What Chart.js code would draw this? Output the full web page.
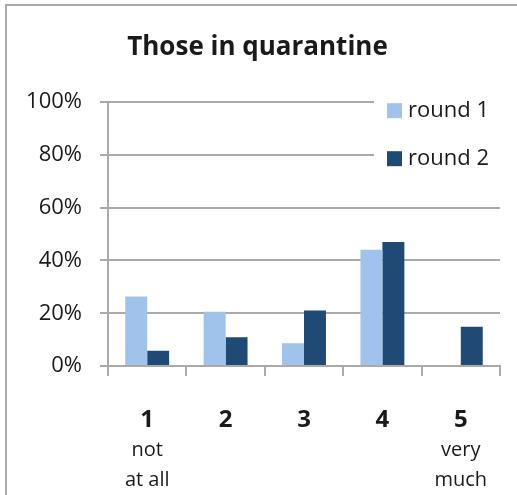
<!DOCTYPE html>
<html>
<head>
<meta charset="utf-8">
<script src="https://cdn.jsdelivr.net/npm/chart.js@4/dist/chart.umd.min.js"></script>
<style>
    html, body { margin: 0; padding: 0; background: #fff; overflow: hidden; }
    #wrap { position: relative; width: 517px; height: 495px; }
    #frame { position: absolute; left: 5px; top: 4px; width: 600px; height: 600px;
             border-top: 2px solid #a9a9a9; border-left: 2px solid #a9a9a9; }
    #myChart { position: absolute; left: 0; top: 0; }
</style>
</head>
<body>
<div id="wrap">
    <div id="frame"></div>
    <canvas id="myChart" width="517" height="495"></canvas>
</div>
<script>
var categories = ['1', '2', '3', '4', '5'];
var subLabels = [['not', 'at all'], '', '', '', ['very', 'much']];
var seriesNames = ['round 1', 'round 2'];
var round1 = [26.3, 20.6, 8.6, 44.1, 0];
var round2 = [5.8, 10.9, 21.0, 47.0, 14.9];
var seriesColors = ['#9fc3ea', '#1f4a75'];

var gridColor = '#aaaaaa';
var textColor = '#1a1a1a';
var fontFamily = "'Open Sans', sans-serif";

// legend drawn inside the plot, top right, over a white patch
var cornerLegend = {
    id: 'cornerLegend',
    afterDraw: function (chart) {
        var ctx = chart.ctx;
        var area = chart.chartArea;
        var x0 = area.right - 126;
        ctx.save();
        ctx.fillStyle = '#fff';
        ctx.fillRect(x0, area.top - 8, 140, 82);
        ctx.font = '22px ' + fontFamily;
        ctx.textBaseline = 'middle';
        chart.data.datasets.forEach(function (ds, i) {
            var y = area.top + 8 + i * 48;
            ctx.fillStyle = ds.backgroundColor;
            ctx.fillRect(x0 + 13, y - 7, 15, 15);
            ctx.fillStyle = textColor;
            ctx.fillText(ds.label, x0 + 34, y + 1);
        });
        ctx.restore();
    }
};

var ctx = document.getElementById('myChart');
var myChart = new Chart(ctx, {
    type: 'bar',
    data: {
        labels: categories,
        datasets: [
            { label: seriesNames[0], data: round1, backgroundColor: seriesColors[0] },
            { label: seriesNames[1], data: round2, backgroundColor: seriesColors[1] }
        ]
    },
    options: {
        responsive: false,
        animation: false,
        categoryPercentage: 0.56,
        barPercentage: 1,
        layout: { padding: { left: 15, right: 17, top: 0, bottom: 0 } },
        plugins: {
            legend: { display: false },
            tooltip: { enabled: false },
            title: {
                display: true,
                text: 'Those in quarantine',
                color: textColor,
                font: { family: fontFamily, size: 26, weight: 'bold', lineHeight: 1.2 },
                padding: { top: 32, bottom: 39 }
            }
        },
        scales: {
            y: {
                min: 0,
                max: 100,
                ticks: {
                    stepSize: 20,
                    color: textColor,
                    padding: 18,
                    font: { family: fontFamily, size: 22 },
                    callback: function (value) { return value + '%'; }
                },
                grid: { color: gridColor, lineWidth: 2, tickLength: 8 },
                border: { color: gridColor, width: 2 },
                afterFit: function (scale) { scale.width = 93; }
            },
            x: {
                weight: 0,
                ticks: {
                    color: textColor,
                    padding: 30,
                    font: { family: fontFamily, size: 24, weight: 'bold', lineHeight: 1.2 }
                },
                grid: { drawOnChartArea: false, color: gridColor, lineWidth: 2, tickLength: 10 },
                border: { color: gridColor, width: 2 },
                afterFit: function (scale) { scale.height = 69; }
            },
            x2: {
                type: 'category',
                position: 'bottom',
                weight: 1,
                labels: subLabels,
                ticks: {
                    color: textColor,
                    padding: 0,
                    font: { family: fontFamily, size: 20, lineHeight: 1.5 }
                },
                grid: { display: false, drawTicks: false },
                border: { display: false },
                afterFit: function (scale) { scale.height = 60; }
            }
        }
    },
    plugins: [cornerLegend]
});
</script>
</body>
</html>
